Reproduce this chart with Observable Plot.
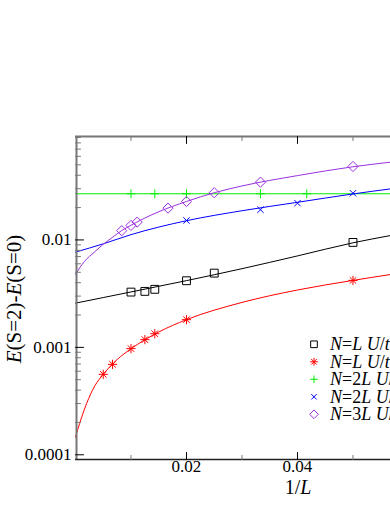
<!DOCTYPE html>
<html><head><meta charset="utf-8">
<script src="https://cdn.jsdelivr.net/npm/d3@7"></script>
<script src="https://cdn.jsdelivr.net/npm/@observablehq/plot@0.6"></script>
<style>
html,body{margin:0;padding:0;background:#fff;overflow:hidden;}
#chart{position:relative;width:390px;height:505px;overflow:hidden;}
#chart svg text{font-family:'Liberation Serif','Times New Roman',serif;}
</style></head><body><div id="chart"></div>
<script>
// ---- data (x = 1/L, y = E(S=2)-E(S=0)) ----
const blackX = [0.01, 0.0125, 0.01429, 0.02, 0.025, 0.05];
const blackY = [0.00327, 0.00332, 0.00347, 0.00417, 0.00491, 0.00948];
const redX = [0.005, 0.00667, 0.01, 0.0125, 0.01429, 0.02, 0.05];
const redY = [0.000561, 0.000695, 0.000973, 0.00118, 0.00134, 0.00181, 0.0042];
const greenX = [0.01, 0.01429, 0.02, 0.03333, 0.04167];
const greenY = [0.0269, 0.0269, 0.0269, 0.0269, 0.0269];
const blueX = [0.02, 0.03333, 0.04, 0.05];
const blueY = [0.01518, 0.0191, 0.022, 0.0272];
const purpleX = [0.00833, 0.01, 0.01111, 0.01667, 0.02, 0.025, 0.03333, 0.05];
const purpleY = [0.0122, 0.01365, 0.01466, 0.01977, 0.0228, 0.0275, 0.0345, 0.0483];

// fit curves
const blackFitX = [0, 0.01, 0.02, 0.03, 0.04, 0.05, 0.0568];
const blackFitY = [0.00258, 0.00328, 0.00418, 0.0054, 0.0071, 0.0094, 0.011];
const redFitX = [0, 0.001, 0.002, 0.0035, 0.005, 0.0075, 0.01, 0.015, 0.02, 0.03, 0.04, 0.05, 0.0568];
const redFitY = [0.000146, 0.000215, 0.0003, 0.00044, 0.000561, 0.00077, 0.00097, 0.00139, 0.00181, 0.00262, 0.00342, 0.0042, 0.00477];
const greenFitX = [0, 0.0568];
const greenFitY = [0.0269, 0.0269];
const blueFitX = [0, 0.005, 0.01, 0.02, 0.03, 0.04, 0.05, 0.0568];
const blueFitY = [0.0077, 0.0092, 0.0112, 0.0151, 0.0187, 0.0224, 0.0268, 0.0299];
const purpleFitX = [0, 0.0016, 0.0034, 0.0051, 0.0067, 0.0083, 0.01, 0.0125, 0.015, 0.02, 0.025, 0.03, 0.04, 0.05, 0.0568];
const purpleFitY = [0.00478, 0.0063, 0.0077, 0.0092, 0.0106, 0.0122, 0.0137, 0.016, 0.0183, 0.0228, 0.0275, 0.0318, 0.0397, 0.048, 0.053];

// axes
const xDomain = [0, 0.05676];
const yDomain = [0.0000904, 0.0918];
const xMajor = [0.02, 0.04];
const xMajorLabels = ["0.02", "0.04"];
const xMinor = [0.01, 0.03, 0.05];
const yMajor = [0.0001, 0.001, 0.01];
const yMajorLabels = ["0.0001", "0.001", "0.01"];
const yMinor = [0.0002, 0.0003, 0.0004, 0.0005, 0.0006, 0.0007, 0.0008, 0.0009,
                0.002, 0.003, 0.004, 0.005, 0.006, 0.007, 0.008, 0.009,
                0.02, 0.03, 0.04, 0.05, 0.06, 0.07, 0.08, 0.09];

const seriesNames = ["N=L U/t=2", "N=L U/t=4", "N=2L U/t=2", "N=2L U/t=4", "N=3L U/t=2"];
const seriesColors = ["#000000", "#ff0000", "#00ee00", "#0000ff", "#9b30e0"];

// ---- helpers ----
const FONT = "'Liberation Serif', 'Times New Roman', serif";
const rows = (xs, ys) => xs.map((x, i) => ({x, y: ys[i]}));
const star8 = {draw(ctx, size) {
  const r = Math.sqrt(size / Math.PI);
  for (let k = 0; k < 4; k++) {
    const a = k * Math.PI / 4, c = Math.cos(a) * r, s = Math.sin(a) * r;
    ctx.moveTo(-c, -s); ctx.lineTo(c, s);
  }
}};
const tickShape = {draw(ctx, l) { ctx.moveTo(0, 0); ctx.lineTo(0, -l); }};
const symbols = ["square2", star8, "plus", "times", "diamond2"];
const d3Symbols = {square2: d3.symbolSquare2, plus: d3.symbolPlus, times: d3.symbolTimes, diamond2: d3.symbolDiamond2};
const radii = [5, 4.6, 3, 3, 4.6];
const pts = [rows(blackX, blackY), rows(redX, redY), rows(greenX, greenY), rows(blueX, blueY), rows(purpleX, purpleY)];
const fits = [rows(blackFitX, blackFitY), rows(redFitX, redFitY), rows(greenFitX, greenFitY), rows(blueFitX, blueFitY), rows(purpleFitX, purpleFitY)];

const marks = [];
fits.forEach((f, i) => marks.push(Plot.line(f, {x: "x", y: "y", stroke: seriesColors[i], strokeWidth: 1, curve: "monotone-x"})));
pts.forEach((p, i) => marks.push(Plot.dot(p, {x: "x", y: "y", symbol: symbols[i], r: radii[i], stroke: seriesColors[i], fill: "none", strokeWidth: 1})));

// frame (left, top, bottom)
marks.push(Plot.ruleX([xDomain[0]], {stroke: "#777", strokeWidth: 2, dx: 1}));
marks.push(Plot.ruleY([yDomain[0]], {stroke: "#222", strokeWidth: 1.5}));
marks.push(Plot.ruleY([yDomain[1]], {stroke: "#777", strokeWidth: 2}));

// inward ticks
marks.push(Plot.vector(yMajor, {y: d => d, frameAnchor: "left", rotate: 90, length: 8, anchor: "start", shape: tickShape, stroke: "#000", strokeWidth: 1}));
marks.push(Plot.vector(yMinor, {y: d => d, frameAnchor: "left", rotate: 90, length: 5, anchor: "start", shape: tickShape, stroke: "#777", strokeWidth: 1}));
marks.push(Plot.vector(xMajor, {x: d => d, frameAnchor: "bottom", rotate: 0, length: 7, anchor: "start", shape: tickShape, stroke: "#000", strokeWidth: 1}));
marks.push(Plot.vector(xMinor, {x: d => d, frameAnchor: "bottom", rotate: 0, length: 4, anchor: "start", shape: tickShape, stroke: "#777", strokeWidth: 1}));
marks.push(Plot.vector(xMajor, {x: d => d, frameAnchor: "top", rotate: 180, length: 7, anchor: "start", shape: tickShape, stroke: "#000", strokeWidth: 1}));
marks.push(Plot.vector(xMinor, {x: d => d, frameAnchor: "top", rotate: 180, length: 4, anchor: "start", shape: tickShape, stroke: "#777", strokeWidth: 1}));

// tick labels
marks.push(Plot.text(yMajor, {y: d => d, text: (d, i) => yMajorLabels[i], frameAnchor: "left", textAnchor: "end", dx: -4, fontSize: 17, fill: "#000", fontFamily: FONT}));
marks.push(Plot.text(xMajor, {x: d => d, text: (d, i) => xMajorLabels[i], frameAnchor: "bottom", dy: 12, fontSize: 17, fill: "#000", fontFamily: FONT}));

const svg = Plot.plot({
  width: 390, height: 505,
  marginLeft: 75, marginRight: 0, marginTop: 136, marginBottom: 46,
  x: {domain: xDomain, axis: null},
  y: {type: "log", domain: yDomain, axis: null},
  style: {fontFamily: FONT, background: "white", overflow: "hidden"},
  marks
});

const s = d3.select(svg);
// y label
const yl = s.append("text")
  .attr("transform", "translate(14,299) rotate(-90)")
  .attr("text-anchor", "middle").attr("dominant-baseline", "central")
  .attr("font-family", FONT).attr("font-size", 21).attr("fill", "#000");
yl.append("tspan").attr("font-style", "italic").text("E");
yl.append("tspan").text("(S=2)-");
yl.append("tspan").attr("font-style", "italic").text("E");
yl.append("tspan").text("(S=0)");
// x label
const xl = s.append("text").attr("x", 298).attr("y", 487)
  .attr("text-anchor", "middle").attr("dominant-baseline", "central")
  .attr("font-family", FONT).attr("font-size", 20).attr("fill", "#000");
xl.append("tspan").text("1/");
xl.append("tspan").attr("font-style", "italic").text("L");

// legend
const legY0 = 344.3, legDy = 17.5;
seriesNames.forEach((name, i) => {
  const y = legY0 + i * legDy;
  const type = typeof symbols[i] === "string" ? d3Symbols[symbols[i]] : symbols[i];
  s.append("path")
    .attr("transform", `translate(314,${y})`)
    .attr("d", d3.symbol(type, Math.PI * (radii[i] * 0.85) ** 2)())
    .attr("fill", "none").attr("stroke", seriesColors[i]).attr("stroke-width", 1);
  const t = s.append("text").attr("x", 330).attr("y", y)
    .attr("text-anchor", "start").attr("dominant-baseline", "central")
    .attr("font-family", FONT).attr("font-size", 18).attr("fill", "#000");
  const m = name.match(/^N=(\d?)L U\/t=(\d)$/);
  t.append("tspan").attr("font-style", "italic").text("N");
  t.append("tspan").text("=" + m[1]);
  t.append("tspan").attr("font-style", "italic").text("L");
  t.append("tspan").text(" ");
  t.append("tspan").attr("font-style", "italic").text("U");
  t.append("tspan").text("/");
  t.append("tspan").attr("font-style", "italic").text("t");
  t.append("tspan").text("=" + m[2]);
});

document.getElementById("chart").appendChild(svg);
</script></body></html>
